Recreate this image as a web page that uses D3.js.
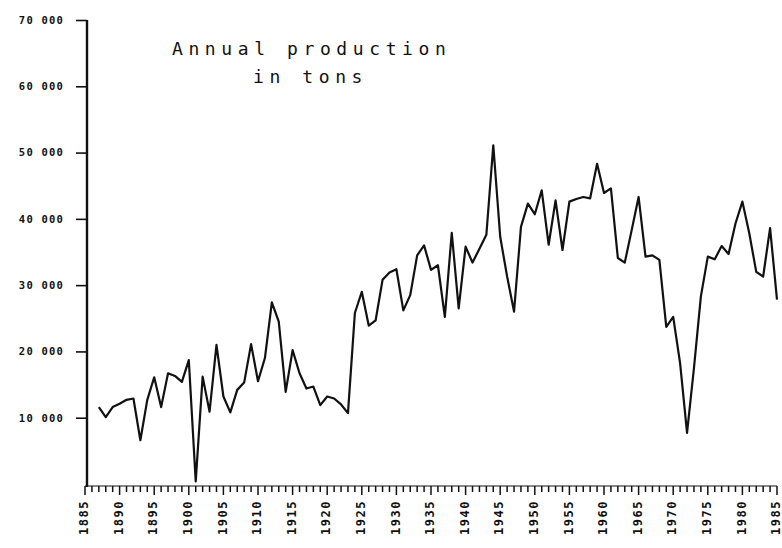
<!DOCTYPE html>
<html>
<head>
<meta charset="utf-8">
<script src="https://cdn.jsdelivr.net/npm/d3@7"></script>
<style>
  html, body { margin: 0; padding: 0; background: #fff; }
  svg { display: block; }
</style>
</head>
<body>
<div id="chart"></div>
<script>
// ---- data ----
const years = d3.range(1887, 1986);
const production = [
  11600, 10100, 11600, 12100, 12700, 12900, 6600, 12700, 16100, 11600, // 1887-1896
  16700, 16300, 15400, 18700, 400, 16200, 10900, 21000, 13200, 10800,  // 1897-1906
  14200, 15300, 21100, 15500, 19000, 27400, 24500, 13900, 20200, 16700, // 1907-1916
  14400, 14700, 11900, 13200, 12900, 12000, 10700, 25800, 29000, 23900, // 1917-1926
  24700, 30800, 31900, 32400, 26200, 28500, 34500, 36000, 32300, 33000, // 1927-1936
  25200, 37900, 26500, 35800, 33400, 35500, 37600, 51100, 37300, 31300, // 1937-1946
  26000, 38800, 42300, 40700, 44300, 36100, 42800, 35300, 42600, 43000, // 1947-1956
  43300, 43100, 48300, 43900, 44600, 34100, 33400, 38300, 43300, 34300, // 1957-1966
  34500, 33800, 23700, 25200, 18200, 7700, 17500, 28300, 34300, 33900,  // 1967-1976
  35900, 34700, 39300, 42600, 37800, 32000, 31300, 38600, 27800          // 1977-1985
];
const yTicks = [10000, 20000, 30000, 40000, 50000, 60000, 70000];
const xLabelYears = d3.range(1885, 1986, 5);
const titleLines = ["Annual production", "in tons"];

// ---- layout ----
const W = 782, H = 548;
const svg = d3.select("#chart").append("svg")
  .attr("width", W).attr("height", H);

const x = d3.scaleLinear().domain([1885, 1985]).range([85, 777]);
const y = d3.scaleLinear().domain([0, 70000]).range([484, 20]);

const ink = "#111";
const axisX = 87;

// y axis
const yAxis = d3.axisLeft(y)
  .tickValues(yTicks)
  .tickSize(11)
  .tickPadding(12)
  .tickFormat(d => d3.format(",")(d).replace(",", " "));
const gy = svg.append("g").attr("transform", `translate(${axisX},0)`).call(yAxis);
gy.select(".domain").remove();
gy.selectAll(".tick line").attr("stroke", ink).attr("stroke-width", 1.6);
gy.selectAll(".tick text")
  .attr("fill", ink)
  .style("font-family", "'DejaVu Sans Mono', monospace")
  .style("font-size", "10.5px")
  .style("font-weight", "bold")
  .style("letter-spacing", "1.2px");
svg.append("line")
  .attr("x1", axisX).attr("x2", axisX)
  .attr("y1", y(70000)).attr("y2", 487)
  .attr("stroke", ink).attr("stroke-width", 2.4);

// x axis
const baseY = 486;
const gx = svg.append("g").attr("transform", `translate(0,${baseY})`);
gx.append("line")
  .attr("x1", x(1885)).attr("x2", x(1985))
  .attr("stroke", ink).attr("stroke-width", 1);
const allYears = d3.range(1885, 1986);
gx.selectAll("line.tk").data(allYears).join("line")
  .attr("class", "tk")
  .attr("x1", d => x(d)).attr("x2", d => x(d))
  .attr("y1", 0).attr("y2", d => d % 5 === 0 ? 9 : 6)
  .attr("stroke", ink).attr("stroke-width", 1.5);
gx.selectAll("text").data(xLabelYears).join("text")
  .attr("transform", d => `translate(${x(d) - 1},14) rotate(-90)`)
  .attr("text-anchor", "end")
  .attr("dy", "0.35em")
  .attr("fill", ink)
  .style("font-family", "'DejaVu Sans Mono', monospace")
  .style("font-size", "12px")
  .style("font-weight", "bold")
  .style("letter-spacing", "1.5px")
  .text(d => d);

// line
const line = d3.line()
  .x((d, i) => x(years[i]))
  .y(d => y(d));
svg.append("path")
  .datum(production)
  .attr("fill", "none")
  .attr("stroke", ink)
  .attr("stroke-width", 2.2)
  .attr("stroke-linejoin", "round")
  .attr("d", line);

// title
const title = svg.append("g")
  .style("font-family", "'DejaVu Sans Mono', monospace")
  .style("font-size", "18px")
  .style("letter-spacing", "5.6px")
  .attr("fill", ink);
title.append("text").attr("x", 172).attr("y", 55).text(titleLines[0]);
title.append("text").attr("x", 253).attr("y", 83).text(titleLines[1]);
</script>
</body>
</html>
